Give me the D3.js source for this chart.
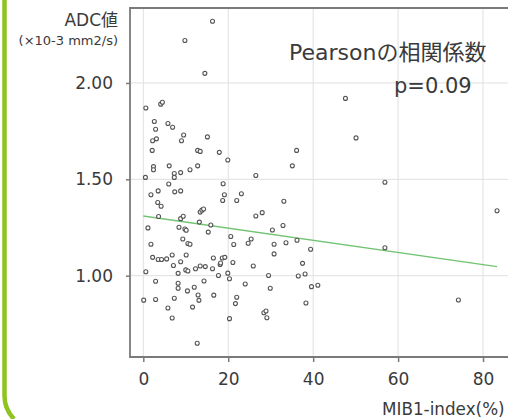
<!DOCTYPE html>
<html>
<head>
<meta charset="utf-8">
<script src="https://cdn.jsdelivr.net/npm/d3@7"></script>
<style>
  body { margin: 0; background: #fff; }
  svg { display: block; font-family: "DejaVu Sans", "Noto Sans CJK JP", sans-serif; }
</style>
</head>
<body>
<svg id="chart" width="508" height="419"></svg>
<script>
// MIB1-index (%) and ADC value for each case
var mib1 = [
	16.3, 9.8, 14.5, 47.6, 0.6, 4.1, 4.5, 2.6, 5.8, 2.9,
	6.9, 9.5, 15.1, 3.1, 2.2, 9.0, 50.1, 12.8, 13.4, 2.1,
	17.9, 36.1, 19.9, 2.4, 2.4, 6.1, 12.8, 35.1, 11.0, 8.8,
	7.3, 7.3, 0.5, 26.5, 56.9, 6.0, 18.8, 1.8, 3.5, 7.4,
	8.8, 19.1, 18.7, 23.1, 22.0, 33.1, 3.4, 4.2, 13.4, 13.8,
	14.2, 3.6, 8.8, 9.4, 28.0, 26.5, 83.3, 13.2, 15.9, 1.1,
	8.4, 9.8, 10.1, 15.3, 30.4, 32.9, 9.3, 20.6, 10.5, 11.0,
	1.8, 21.3, 25.4, 24.7, 30.8, 33.6, 36.2, 39.4, 56.9, 30.8,
	2.2, 3.5, 4.3, 5.5, 6.8, 10.1, 16.5, 18.6, 19.2, 8.8,
	7.1, 10.0, 10.5, 12.3, 13.4, 14.6, 16.3, 18.1, 18.2, 21.1,
	25.9, 37.5, 0.6, 8.2, 17.7, 19.9, 20.3, 29.5, 36.5, 38.1,
	2.9, 8.2, 8.2, 14.3, 10.4, 12.0, 24.0, 29.9, 39.6, 41.1,
	0.1, 2.9, 7.3, 12.9, 13.1, 16.6, 22.0, 21.7, 38.3, 74.2,
	5.8, 11.6, 6.8, 20.3, 28.4, 28.9, 29.1, 12.7
];
var adc = [
	2.32, 2.22, 2.05, 1.92, 1.87, 1.89, 1.90, 1.80, 1.79, 1.76,
	1.77, 1.73, 1.72, 1.71, 1.70, 1.70, 1.715, 1.65, 1.645, 1.65,
	1.64, 1.65, 1.60, 1.566, 1.55, 1.57, 1.57, 1.57, 1.55, 1.535,
	1.53, 1.51, 1.51, 1.52, 1.485, 1.476, 1.477, 1.42, 1.44, 1.435,
	1.44, 1.42, 1.39, 1.425, 1.39, 1.386, 1.38, 1.36, 1.33, 1.34,
	1.346, 1.307, 1.296, 1.308, 1.327, 1.31, 1.337, 1.278, 1.263, 1.248,
	1.251, 1.242, 1.236, 1.226, 1.237, 1.26, 1.19, 1.203, 1.167, 1.163,
	1.163, 1.162, 1.19, 1.168, 1.163, 1.171, 1.184, 1.137, 1.145, 1.113,
	1.095, 1.084, 1.084, 1.087, 1.107, 1.107, 1.092, 1.092, 1.095, 1.072,
	1.053, 1.03, 1.024, 1.036, 1.05, 1.047, 1.036, 1.058, 1.066, 1.068,
	1.05, 1.064, 1.02, 1.012, 1.001, 1.013, 0.984, 1.001, 0.998, 1.009,
	0.971, 0.961, 0.935, 0.972, 0.921, 0.94, 0.957, 0.935, 0.943, 0.95,
	0.873, 0.876, 0.883, 0.90, 0.872, 0.899, 0.888, 0.855, 0.858, 0.874,
	0.832, 0.837, 0.78, 0.777, 0.808, 0.817, 0.782, 0.649
];

// regression line end points
var trendX = [0, 83.3];
var trendY = [1.31, 1.047];

var xTicks = [0, 20, 40, 60, 80];
var yTicks = [1.0, 1.5, 2.0];

var svg = d3.select('#chart');

var plot = { left: 130, top: 8, right: 517, bottom: 357 };

var x = d3.scaleLinear().domain([-3.13, 88]).range([plot.left, plot.right]);
var y = d3.scaleLinear().domain([0.578, 2.389]).range([plot.bottom, plot.top]);

// green frame edge on the far left
svg.append('path')
	.attr('d', 'M4.5,0 V396 Q4.5,409 14,419')
	.attr('fill', 'none')
	.attr('stroke', '#8fc31f')
	.attr('stroke-width', 4.5);

// gridlines
svg.append('g').selectAll('line').data(xTicks).enter().append('line')
	.attr('x1', function(d) { return x(d); })
	.attr('x2', function(d) { return x(d); })
	.attr('y1', plot.top)
	.attr('y2', plot.bottom)
	.attr('stroke', '#e0e0e0')
	.attr('stroke-width', 1);

svg.append('g').selectAll('line').data(yTicks).enter().append('line')
	.attr('x1', plot.left)
	.attr('x2', plot.right)
	.attr('y1', function(d) { return y(d); })
	.attr('y2', function(d) { return y(d); })
	.attr('stroke', '#e0e0e0')
	.attr('stroke-width', 1);

// axes
var xAxis = svg.append('g')
	.attr('transform', 'translate(0,' + plot.bottom + ')')
	.call(d3.axisBottom(x).tickValues(xTicks).tickFormat(d3.format('d')).tickSize(5).tickPadding(11));

var yAxis = svg.append('g')
	.attr('transform', 'translate(' + plot.left + ',0)')
	.call(d3.axisLeft(y).tickValues(yTicks).tickFormat(d3.format('.2f')).tickSize(4).tickPadding(13));

[xAxis, yAxis].forEach(function(a) {
	a.select('.domain').remove();
	a.selectAll('line').attr('stroke', '#7a7a7a').attr('stroke-width', 1.5);
	a.selectAll('text')
		.attr('fill', '#3a3a3a')
		.style('font-size', '17px')
		.style('font-family', '"DejaVu Sans", sans-serif');
});

// frame: left, bottom, top
svg.append('path')
	.attr('d', 'M' + plot.right + ',' + plot.top + ' H' + plot.left + ' V' + plot.bottom + ' H' + plot.right)
	.attr('fill', 'none')
	.attr('stroke', '#7a7a7a')
	.attr('stroke-width', 1.8);

// trend line
svg.append('line')
	.attr('x1', x(trendX[0])).attr('y1', y(trendY[0]))
	.attr('x2', x(trendX[1])).attr('y2', y(trendY[1]))
	.attr('stroke', '#72c472')
	.attr('stroke-width', 1.4);

// points
svg.append('g').selectAll('circle').data(mib1).enter().append('circle')
	.attr('cx', function(d) { return x(d); })
	.attr('cy', function(d, i) { return y(adc[i]); })
	.attr('r', 2)
	.attr('fill', '#fff')
	.attr('stroke', '#555')
	.attr('stroke-width', 1.1);

// labels
svg.append('text')
	.attr('x', 118).attr('y', 26)
	.attr('text-anchor', 'end')
	.attr('fill', '#3a3a3a')
	.style('font-size', '17px')
	.text('ADC値');

svg.append('text')
	.attr('x', 118).attr('y', 45)
	.attr('text-anchor', 'end')
	.attr('fill', '#3a3a3a')
	.style('font-size', '13px')
	.text('(×10-3 mm2/s)');

svg.append('text')
	.attr('x', 289).attr('y', 60)
	.attr('fill', '#3a3a3a')
	.style('font-size', '22px')
	.text('Pearsonの相関係数');

svg.append('text')
	.attr('x', 394).attr('y', 93)
	.attr('fill', '#3a3a3a')
	.style('font-size', '21px')
	.text('p=0.09');

svg.append('text')
	.attr('x', 382).attr('y', 415)
	.attr('fill', '#3a3a3a')
	.style('font-size', '16.8px')
	.text('MIB1-index(%)');
</script>
</body>
</html>
